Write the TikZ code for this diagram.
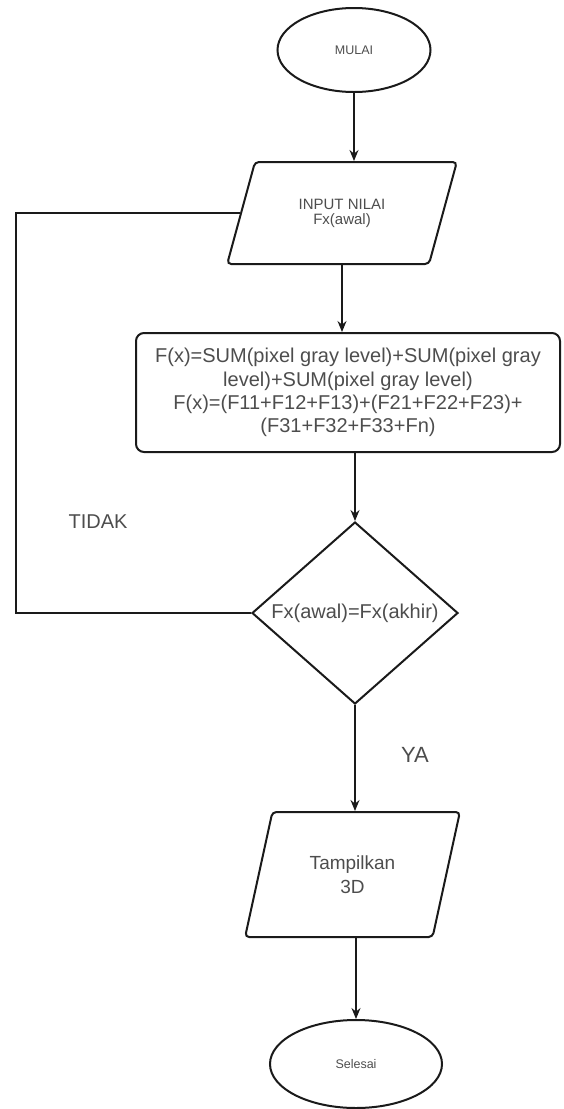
\documentclass[tikz,border=0pt]{standalone}
\usepackage{fontspec}
\setmainfont{Liberation Sans}
\usepackage{tikz}
\usetikzlibrary{shapes.geometric}
\usetikzlibrary{arrows.meta}
\definecolor{garis}{HTML}{1A1A1A}
\definecolor{tulisan}{HTML}{4D4D4D}

\begin{document}
\begin{tikzpicture}[x=1pt,y=-1pt]
        \tikzset{terminal/.style={ellipse, draw=garis, line width=2pt, text=tulisan, inner sep=0pt},
                 io/.style={trapezium, trapezium stretches=true, trapezium left angle=64, trapezium right angle=116, draw=garis, line width=2pt, rounded corners=4pt, text=tulisan, align=center, inner sep=0pt},
                 proses/.style={rectangle, draw=garis, line width=2pt, rounded corners=8pt, text=tulisan, align=center},
                 keputusan/.style={diamond, aspect=1.13, draw=garis, line width=2pt, text=tulisan, inner sep=0pt},
                 alur/.style={->, draw=garis, line width=1.3pt},
                 balik/.style={draw=garis, line width=2pt},
                 >={Stealth[length=11pt,width=9pt]}}
        
        \useasboundingbox (0,0) rectangle (563,1109);
        
        %flowchart utama
        \node[terminal, minimum width=153pt, minimum height=84pt, font=\fontsize{12.5}{15}\selectfont] (mulai) at (354,50) {MULAI};
        \node[io, minimum width=230pt, minimum height=102pt, font=\fontsize{15}{15}\selectfont] (input) at (342,213) {INPUT NILAI\\Fx(awal)};
        \node[proses, minimum width=424pt, minimum height=119pt, font=\fontsize{20}{23.3}\selectfont] (hitung) at (348,392.5) {F(x)=SUM(pixel gray level)+SUM(pixel gray\\level)+SUM(pixel gray level)\\F(x)=(F11+F12+F13)+(F21+F22+F23)+\\(F31+F32+F33+Fn)};
        \node[keputusan, minimum width=206pt, minimum height=182pt, font=\fontsize{20}{24}\selectfont] (cek) at (355,613) {Fx(awal)=Fx(akhir)};
        \node[io, trapezium left angle=69, trapezium right angle=111, minimum width=215pt, minimum height=125pt, font=\fontsize{19}{24}\selectfont] (tampil) at (352.5,874.5) {Tampilkan\\3D};
        \node[terminal, minimum width=172pt, minimum height=88pt, font=\fontsize{12.5}{15}\selectfont] (selesai) at (356,1064) {Selesai};
        
        %panah
        \draw[alur] (mulai.south) -- (mulai.south |- input.north);
        \draw[alur] (input.south) -- (input.south |- hitung.north);
        \draw[alur] (hitung.south -| cek.north) -- (cek.north);
        \draw[alur] (cek.south) -- (cek.south |- tampil.north);
        \draw[alur] (tampil.south -| selesai.north) -- (selesai.north);
        
        %garis kembali
        \coordinate (kiri) at (16,208);
        \draw[balik] (cek.west) -- (cek.west -| kiri) -- (kiri |- input.left side) -- (input.left side);
        
        %label
        \node[text=tulisan, font=\fontsize{20}{24}\selectfont] (tidak) at (98,522) {TIDAK};
        \node[text=tulisan, font=\fontsize{22}{26}\selectfont] (ya) at (415,755) {YA};
\end{tikzpicture}
\end{document}
